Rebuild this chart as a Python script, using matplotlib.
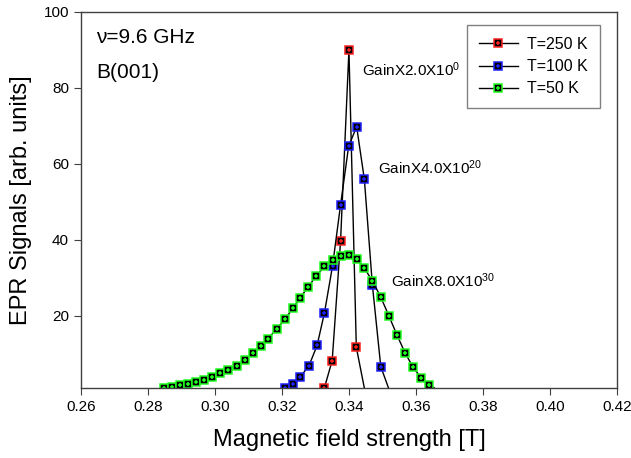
import matplotlib.pyplot as plt
from matplotlib.lines import Line2D

plt.rcParams['font.family'] = ['Liberation Sans', 'DejaVu Sans']
plt.rcParams['mathtext.fontset'] = 'custom'
plt.rcParams['mathtext.rm'] = 'Liberation Sans'
plt.rcParams['mathtext.it'] = 'Liberation Sans'

# T = 250 K (last point lies below the axis, drawn as line only)
x_250 = [0.3327, 0.3350, 0.3375, 0.3400, 0.3422, 0.3447]
y_250 = [1.1, 8.2, 39.7, 90.0, 11.7, 0.5]

# T = 100 K
x_100 = [0.3210, 0.3233, 0.3255, 0.3281, 0.3305, 0.3327, 0.3351, 0.3375,
         0.3399, 0.3423, 0.3446, 0.3470, 0.3495, 0.3520]
y_100 = [1.0, 2.0, 3.9, 6.9, 12.2, 20.8, 33.1, 49.2,
         64.6, 69.8, 55.9, 28.0, 6.6, 0.5]

# T = 50 K
x_50 = [0.2847, 0.2871, 0.2896, 0.2920, 0.2944, 0.2968, 0.2992, 0.3016,
        0.3040, 0.3065, 0.3089, 0.3113, 0.3137, 0.3159, 0.3185, 0.3209,
        0.3233, 0.3255, 0.3279, 0.3303, 0.3327, 0.3351, 0.3375, 0.3399,
        0.3423, 0.3446, 0.3470, 0.3495, 0.3519, 0.3543, 0.3567, 0.3591,
        0.3615, 0.3639, 0.3663]
y_50 = [1.0, 1.2, 1.7, 2.1, 2.6, 3.2, 4.0, 4.9,
        5.8, 6.9, 8.4, 10.1, 12.0, 14.0, 16.6, 19.1,
        22.0, 24.8, 27.7, 30.5, 33.0, 34.6, 35.7, 35.9,
        34.9, 32.5, 29.2, 24.9, 20.0, 15.0, 10.3, 6.5,
        3.7, 1.9, 0.5]

series = [
    (x_250, y_250, '#ff2020', 'T=250 K'),
    (x_100, y_100, '#2020ff', 'T=100 K'),
    (x_50, y_50, '#20ff20', 'T=50 K'),
]

fig = plt.figure(figsize=(6.31, 4.58), dpi=100)
ax = fig.add_axes([0.128, 0.153, 0.850, 0.821])

handles = []
for xs, ys, col, lab in series:
    n = len(xs) - 1
    ax.plot(xs, ys, color='black', lw=1.0)
    ax.plot(xs[:n], ys[:n], ls='none', marker='s', ms=5.6,
            mfc='black', mec=col, mew=1.1)
    ax.plot(xs[:n], ys[:n], ls='none', marker='+', ms=3.5,
            mec=col, mew=1.1)
    h1 = Line2D([], [], color='black', lw=1.0, marker='s', ms=5.6,
                mfc='black', mec=col, mew=1.1)
    h2 = Line2D([], [], ls='none', marker='+', ms=3.5, mec=col, mew=1.1)
    handles.append(((h1, h2), lab))

ax.set_xlim(0.26, 0.42)
ax.set_ylim(1, 100)
ax.set_xticks([0.26, 0.28, 0.30, 0.32, 0.34, 0.36, 0.38, 0.40, 0.42])
ax.set_xticklabels(['0.26', '0.28', '0.30', '0.32', '0.34', '0.36',
                    '0.38', '0.40', '0.42'])
ax.set_yticks([20, 40, 60, 80, 100])
ax.tick_params(direction='out', labelsize=11, length=5, color='#404040')
for sp in ax.spines.values():
    sp.set_color('#404040')
    sp.set_linewidth(1.0)

ax.set_xlabel('Magnetic field strength [T]', fontsize=17, labelpad=11)
ax.set_ylabel('EPR Signals [arb. units]', fontsize=17, labelpad=8)

ax.text(0.2645, 93.2, '\u03bd=9.6 GHz', fontsize=15, va='center')
ax.text(0.2645, 84.0, 'B(001)', fontsize=15, va='center')

ax.text(0.3439, 84.7, r'GainX2.0X10$^{0}$', fontsize=11, va='center')
ax.text(0.3487, 58.9, r'GainX4.0X10$^{20}$', fontsize=11, va='center')
ax.text(0.3525, 29.2, r'GainX8.0X10$^{30}$', fontsize=11, va='center')

leg = ax.legend([h for h, _ in handles], [l for _, l in handles],
                loc='upper right', bbox_to_anchor=(0.968, 0.965),
                borderaxespad=0, fontsize=11.5, numpoints=1,
                handlelength=2.4, frameon=True, fancybox=False,
                borderpad=0.75, labelspacing=0.45, handletextpad=0.6)
leg.get_frame().set_edgecolor('#606060')
leg.get_frame().set_linewidth(1.0)

fig.savefig('out.png', dpi=100)
